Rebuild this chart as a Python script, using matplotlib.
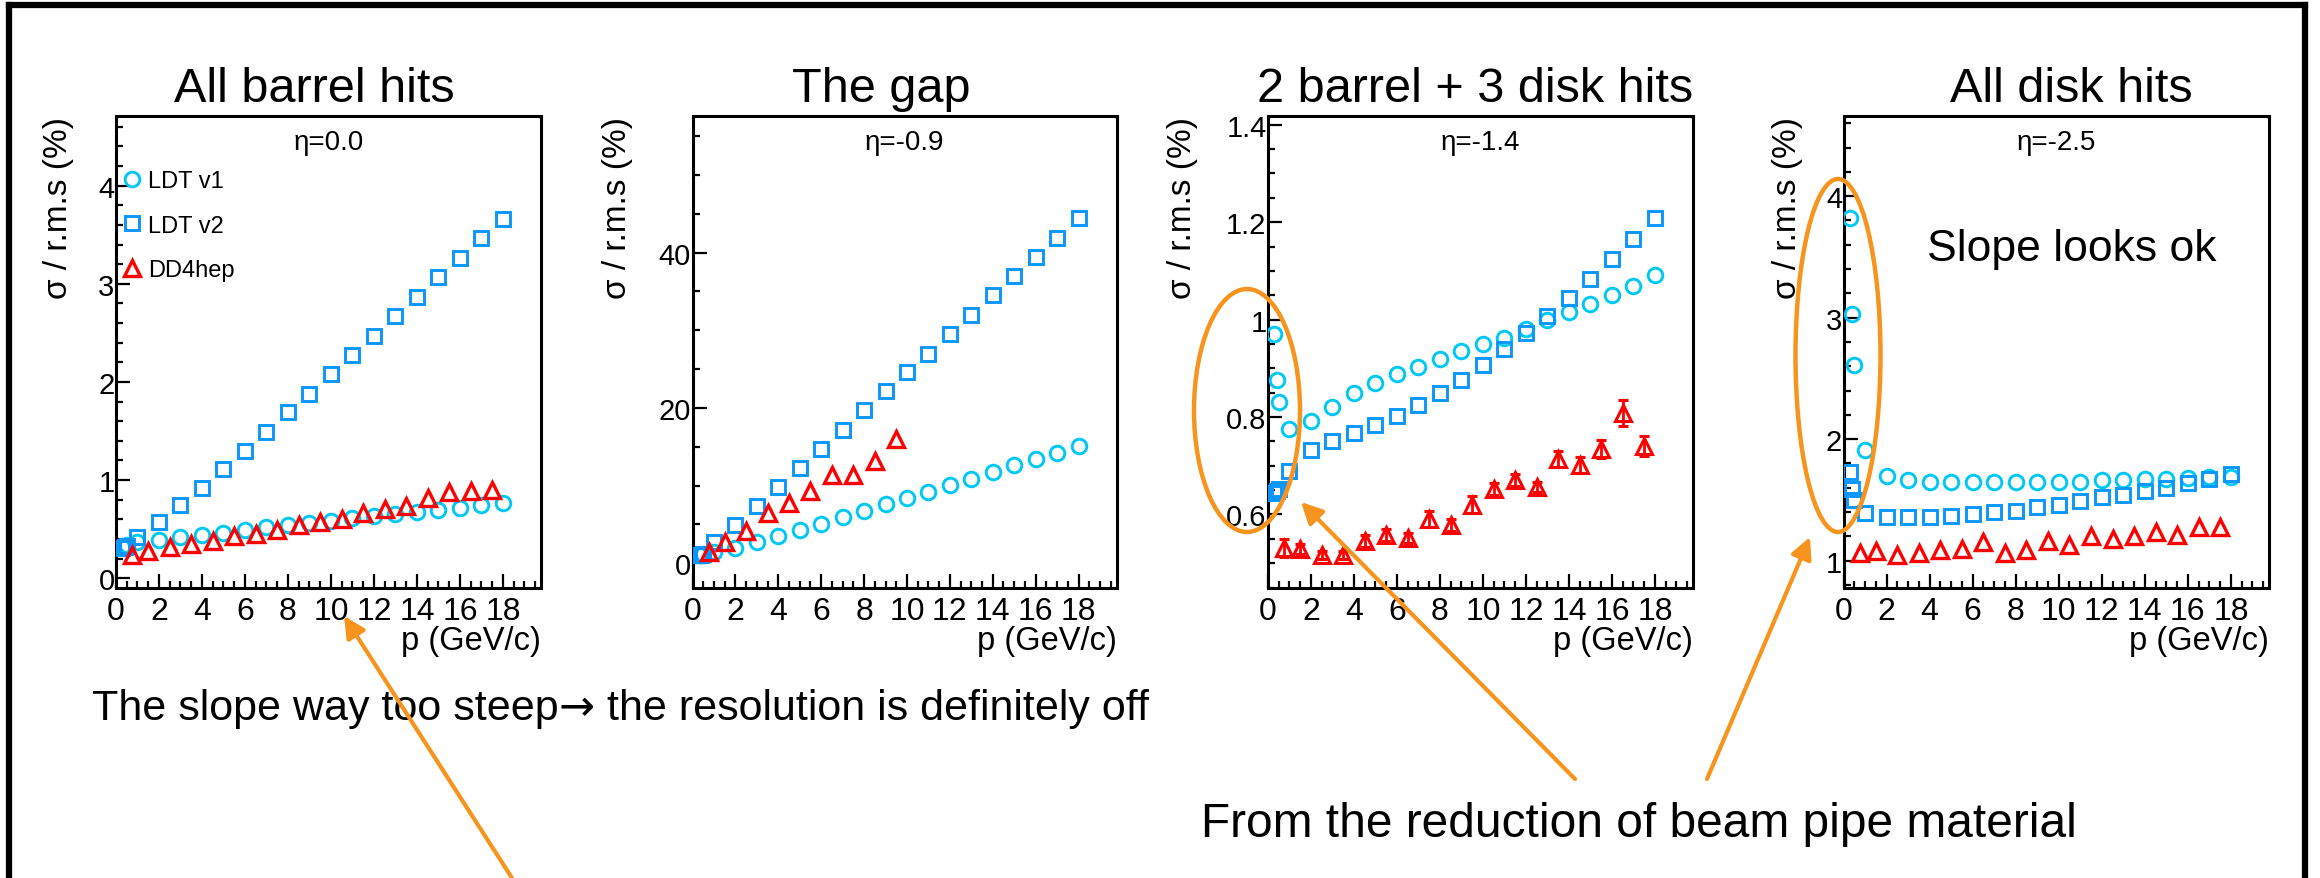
import matplotlib
matplotlib.use("Agg")
import matplotlib.pyplot as plt
from matplotlib.ticker import MultipleLocator, FuncFormatter
from matplotlib.patches import Ellipse, FancyArrowPatch
from matplotlib.lines import Line2D

plt.rcParams['font.family'] = ['Liberation Sans', 'DejaVu Sans']

# --- data -------------------------------------------------------------
# momentum points (GeV/c)
p_ldt = [0.3, 0.4, 0.5, 1, 2, 3, 4, 5, 6, 7, 8, 9, 10, 11, 12, 13, 14, 15, 16, 17, 18]
p_dd4 = [0.75, 1.5, 2.5, 3.5, 4.5, 5.5, 6.5, 7.5, 8.5, 9.5,
         10.5, 11.5, 12.5, 13.5, 14.5, 15.5, 16.5, 17.5]

titles = ["All barrel hits", "The gap", "2 barrel + 3 disk hits", "All disk hits"]
etas = ["η=0.0", "η=-0.9", "η=-1.4", "η=-2.5"]

# eta = 0.0
v1_eta00 = [0.32, 0.33, 0.34, 0.37, 0.39, 0.42, 0.44, 0.46, 0.49, 0.52, 0.54,
            0.56, 0.58, 0.61, 0.63, 0.65, 0.67, 0.69, 0.72, 0.75, 0.77]
v2_eta00 = [0.31, 0.32, 0.33, 0.42, 0.57, 0.75, 0.92, 1.11, 1.30, 1.49, 1.69,
            1.88, 2.08, 2.27, 2.47, 2.67, 2.87, 3.07, 3.26, 3.47, 3.66]
dd_eta00 = [0.24, 0.28, 0.32, 0.35, 0.38, 0.43, 0.45, 0.49, 0.54, 0.57,
            0.60, 0.66, 0.70, 0.74, 0.82, 0.88, 0.89, 0.90]

# eta = -0.9
v1_eta09 = [1.1, 1.1, 1.2, 1.4, 2.0, 2.7, 3.5, 4.3, 5.1, 5.9, 6.7,
            7.6, 8.4, 9.2, 10.1, 10.9, 11.7, 12.6, 13.4, 14.2, 15.1]
v2_eta09 = [1.0, 1.1, 1.2, 2.7, 4.9, 7.4, 9.8, 12.3, 14.7, 17.2, 19.7,
            22.2, 24.6, 27.0, 29.5, 32.0, 34.5, 37.0, 39.4, 41.9, 44.4]
dd_eta09 = [1.4, 2.7, 4.2, 6.4, 7.7, 9.3, 11.3, 11.3, 13.2, 16.0]

# eta = -1.4
v1_eta14 = [0.970, 0.876, 0.830, 0.775, 0.792, 0.821, 0.849, 0.870, 0.888, 0.903, 0.919,
            0.935, 0.949, 0.963, 0.981, 0.999, 1.015, 1.033, 1.051, 1.070, 1.091]
v2_eta14 = [0.645, 0.648, 0.652, 0.690, 0.732, 0.751, 0.767, 0.784, 0.802, 0.824, 0.849,
            0.876, 0.906, 0.939, 0.972, 1.008, 1.045, 1.084, 1.124, 1.166, 1.208]
dd_eta14 = [0.531, 0.529, 0.516, 0.516, 0.545, 0.558, 0.552, 0.591, 0.578, 0.620,
            0.652, 0.671, 0.656, 0.714, 0.701, 0.734, 0.808, 0.741]
dd_err_eta14 = [0.018, 0.010, 0.008, 0.008, 0.012, 0.012, 0.010, 0.016, 0.012, 0.018,
                0.012, 0.012, 0.010, 0.016, 0.016, 0.018, 0.027, 0.020]

# eta = -2.5
v1_eta25 = [3.82, 3.03, 2.61, 1.91, 1.70, 1.66, 1.65, 1.65, 1.65, 1.65, 1.65,
            1.65, 1.65, 1.65, 1.66, 1.66, 1.67, 1.675, 1.68, 1.69, 1.69]
v2_eta25 = [1.73, 1.59, 1.50, 1.39, 1.36, 1.36, 1.36, 1.37, 1.38, 1.40, 1.41,
            1.44, 1.46, 1.49, 1.52, 1.54, 1.57, 1.60, 1.64, 1.67, 1.71]
dd_eta25 = [1.06, 1.08, 1.05, 1.06, 1.09, 1.10, 1.15, 1.06, 1.09, 1.16,
            1.13, 1.20, 1.18, 1.20, 1.24, 1.21, 1.28, 1.28]

v1_sets = [v1_eta00, v1_eta09, v1_eta14, v1_eta25]
v2_sets = [v2_eta00, v2_eta09, v2_eta14, v2_eta25]
dd_sets = [dd_eta00, dd_eta09, dd_eta14, dd_eta25]
dd_errs = [None, None, dd_err_eta14, None]

# --- layout (pixels in the 2320x879 canvas) ---------------------------
W, H = 2320, 879
AX_TOP, AX_BOT = 117, 589
panel_x = [(116, 541), (692.5, 1116.5), (1268, 1693), (1843.5, 2269)]
ylims = [(-0.10, 4.71), (-3.2, 57.6), (0.449, 1.418), (0.775, 4.66)]
ymajor = [1, 20, 0.2, 1]
yminor = [0.2, 5, 0.05, 0.2]
ylab_off = [57, 75, 86, 56]
title_x = [0.466, 0.445, 0.487, 0.536]

C_V1 = "#00C8F5"
C_V2 = "#0A96FF"
C_DD = "#FF0000"
ORANGE = "#F7941D"

fig = plt.figure(figsize=(W / 100, H / 100), dpi=100)


def px(x, y):
    return x / W, 1 - y / H


axes = []
for i in range(4):
    l, r = panel_x[i]
    ax = fig.add_axes([l / W, 1 - AX_BOT / H, (r - l) / W, (AX_BOT - AX_TOP) / H])
    axes.append(ax)

    ax.plot(p_ldt, v1_sets[i], ls='none', marker='o', ms=10.5, mfc='none',
            mec=C_V1, mew=2.1, label="LDT v1", zorder=3)
    ax.plot(p_ldt, v2_sets[i], ls='none', marker='s', ms=9.5, mfc='none',
            mec=C_V2, mew=2.1, label="LDT v2", zorder=3)
    pd = p_dd4[:len(dd_sets[i])]
    if dd_errs[i] is not None:
        ax.errorbar(pd, dd_sets[i], yerr=dd_errs[i], ls='none', marker='^', ms=11,
                    mfc='none', mec=C_DD, mew=2.2, ecolor=C_DD, elinewidth=2,
                    capsize=3.5, capthick=2, zorder=4)
    else:
        ax.plot(pd, dd_sets[i], ls='none', marker='^', ms=11, mfc='none',
                mec=C_DD, mew=2.4, label="DD4hep", zorder=4)

    ax.set_xlim(0, 19.77)
    ax.set_ylim(*ylims[i])
    ax.xaxis.set_major_locator(MultipleLocator(2))
    ax.xaxis.set_minor_locator(MultipleLocator(0.5))
    ax.yaxis.set_major_locator(MultipleLocator(ymajor[i]))
    ax.yaxis.set_minor_locator(MultipleLocator(yminor[i]))
    ax.yaxis.set_major_formatter(FuncFormatter(lambda v, pos: f"{v:g}"))
    ax.tick_params(which='both', direction='in', top=False, right=False, width=1.6)
    ax.tick_params(which='major', length=10)
    ax.tick_params(which='minor', length=5)
    ax.tick_params(axis='x', pad=6, labelsize=23)
    ax.tick_params(axis='y', pad=1, labelsize=21)
    for s in ax.spines.values():
        s.set_linewidth(2.2)

    ax.text(title_x[i], 1.032, titles[i], transform=ax.transAxes,
            ha='center', va='baseline', fontsize=35)
    ax.text(0.5, 0.945, etas[i], transform=ax.transAxes,
            ha='center', va='center', fontsize=20)
    ax.text(-ylab_off[i] / (r - l), 1.0, "σ / r.m.s (%)", transform=ax.transAxes,
            rotation=90, ha='center', va='top', fontsize=24)
    ax.text(1.0, -0.112, "p (GeV/c)", transform=ax.transAxes,
            ha='right', va='center', fontsize=23.5)

axes[0].legend(loc='upper left', bbox_to_anchor=(0.012, 0.885), frameon=False,
               fontsize=17, handlelength=0.9, handletextpad=0.25, borderpad=0,
               borderaxespad=0, labelspacing=0.95, numpoints=1)

axes[3].text(0.537, 0.72, "Slope looks ok", transform=axes[3].transAxes,
             ha='center', va='center', fontsize=32)

# comments under the panels; the arrow glyph comes from DejaVu, so the
# sentence is laid out in three pieces placed one after another
renderer = fig.canvas.get_renderer()
pieces = [("The slope way too steep", 31, 'Liberation Sans'),
          ("→", 31, 'DejaVu Sans'),
          (" the resolution is definitely off", 31, 'Liberation Sans')]
x_cur = 92
for txt, fs, fam in pieces:
    t = fig.text(*px(x_cur, 720), txt, ha='left', va='baseline', fontsize=fs, family=fam)
    x_cur = t.get_window_extent(renderer).x1

fig.text(*px(1201, 837), "From the reduction of beam pipe material",
         ha='left', va='baseline', fontsize=34.5)

# orange highlights
for (cx, cy, w, h) in [(1247, 411.5, 106, 243), (1838, 356.5, 85, 353)]:
    fig.add_artist(Ellipse(px(cx, cy), w / W, h / H, transform=fig.transFigure,
                           fill=False, ec=ORANGE, lw=3.2, zorder=10))

for (x0, y0, x1, y1) in [(512, 879, 344, 617), (1575, 780, 1301, 503),
                         (1707, 780, 1810, 538)]:
    fig.add_artist(FancyArrowPatch(px(x0, y0), px(x1, y1), transform=fig.transFigure,
                                   arrowstyle='-|>', mutation_scale=32, color=ORANGE,
                                   lw=3, shrinkA=0, shrinkB=0, zorder=10))

# slide frame (left, top, right)
for (x0, y0, x1, y1) in [(8.5, 879, 8.5, 5.5), (8.5, 5.5, 2305, 5.5), (2305, 5.5, 2305, 879)]:
    fig.add_artist(Line2D([x0 / W, x1 / W], [1 - y0 / H, 1 - y1 / H],
                          transform=fig.transFigure, color='black', lw=4.5,
                          solid_capstyle='projecting'))

fig.savefig("out.png", dpi=100)
